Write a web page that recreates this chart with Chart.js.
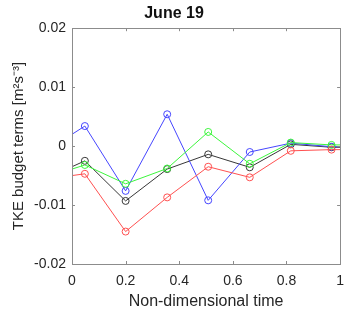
<!DOCTYPE html>
<html>
<head>
<meta charset="utf-8">
<script src="https://cdn.jsdelivr.net/npm/chart.js@4/dist/chart.umd.min.js"></script>
<style>
	html, body { margin: 0; padding: 0; background: #fff; }
	canvas { display: block; }
</style>
</head>
<body>
<canvas id="tke-chart" width="353" height="318"></canvas>
<script>
	// Data (first / last entries are where the lines meet the axes)
	var times = [0, 0.048, 0.2, 0.355, 0.508, 0.663, 0.816, 0.968, 1];
	var blueValues = [0.0020, 0.0034, -0.0076, 0.0054, -0.0092, -0.0010, 0.0005, -0.0001, -0.0001];
	var greenValues = [-0.0039, -0.0032, -0.0064, -0.0038, 0.0024, -0.0030, 0.0006, 0.0002, 0.0002];
	var redValues = [-0.0050, -0.0047, -0.0145, -0.0087, -0.0035, -0.0053, -0.0008, -0.0006, -0.0006];
	var blackValues = [-0.0035, -0.0025, -0.0093, -0.0039, -0.0014, -0.0036, 0.0003, -0.0002, -0.0002];

	var xTicks = [0, 0.2, 0.4, 0.6, 0.8, 1];
	var yTicks = [-0.02, -0.01, 0, 0.01, 0.02];

	var FONT = "'Liberation Sans', Arial, sans-serif";
	var TEXT = '#262626';
	var AXIS = '#8c8c8c';

	function toPoints(values) {
		return values.map(function (v, i) {
			return { x: times[i], y: v };
		});
	}

	function series(values, color) {
		return {
			data: toPoints(values),
			borderColor: color,
			backgroundColor: 'rgba(0,0,0,0)',
			borderWidth: 1,
			pointStyle: 'circle',
			pointBorderColor: color,
			pointBorderWidth: 1,
			pointRadius: function (c) {
				return c.dataIndex === 0 || c.dataIndex === times.length - 1 ? 0 : 3.5;
			},
			pointHoverRadius: 0,
			tension: 0,
			fill: false,
		};
	}

	// Matlab-like box with inward ticks on all four sides
	var boxPlugin = {
		id: 'matlabBox',
		afterDatasetsDraw: function (chart) {
			var ctx = chart.ctx;
			var a = chart.chartArea;
			var xs = chart.scales.x;
			var ys = chart.scales.y;
			var len = 3;
			ctx.save();
			ctx.strokeStyle = AXIS;
			ctx.lineWidth = 1;
			ctx.beginPath();
			xTicks.forEach(function (t) {
				var px = Math.round(xs.getPixelForValue(t)) + 0.5;
				ctx.moveTo(px, a.bottom);
				ctx.lineTo(px, a.bottom - len);
				ctx.moveTo(px, a.top);
				ctx.lineTo(px, a.top + len);
			});
			yTicks.forEach(function (t) {
				var py = Math.round(ys.getPixelForValue(t)) + 0.5;
				ctx.moveTo(a.left, py);
				ctx.lineTo(a.left + len, py);
				ctx.moveTo(a.right, py);
				ctx.lineTo(a.right - len, py);
			});
			ctx.stroke();
			ctx.strokeRect(Math.round(a.left) + 0.5, Math.round(a.top) + 0.5,
				Math.round(a.right - a.left), Math.round(a.bottom - a.top));
			ctx.restore();
		},
	};

	var ctx1 = document.getElementById('tke-chart').getContext('2d');
	var myChart1 = new Chart(ctx1, {
		type: 'line',
		data: {
			datasets: [
				series(redValues, 'rgb(255, 80, 80)'),
				series(greenValues, 'rgb(60, 245, 60)'),
				series(blueValues, 'rgb(70, 70, 255)'),
				series(blackValues, 'rgb(55, 55, 55)'),
			],
		},
		options: {
			responsive: false,
			animation: false,
			devicePixelRatio: 1,
			layout: { padding: { left: 0, right: 5, top: 0, bottom: 0 } },
			plugins: {
				legend: { display: false },
				tooltip: { enabled: false },
				title: {
					display: true,
					text: 'June 19',
					color: '#111',
					font: { family: FONT, size: 16, weight: 'bold' },
					padding: { top: 4, bottom: 5 },
				},
			},
			scales: {
				x: {
					type: 'linear',
					min: 0,
					max: 1,
					grid: { display: false, drawTicks: false },
					border: { display: false },
					afterBuildTicks: function (scale) {
						scale.ticks = xTicks.map(function (v) { return { value: v }; });
					},
					afterFit: function (scale) {
						scale.height = 54;
					},
					ticks: {
						color: TEXT,
						padding: 9,
						maxRotation: 0,
						font: { family: FONT, size: 14 },
						callback: function (v) { return String(v); },
					},
					title: {
						display: true,
						text: 'Non-dimensional time',
						color: TEXT,
						font: { family: FONT, size: 16 },
						padding: { top: 0, bottom: 7 },
					},
				},
				y: {
					type: 'linear',
					min: -0.02,
					max: 0.02,
					grid: { display: false, drawTicks: false },
					border: { display: false },
					afterBuildTicks: function (scale) {
						scale.ticks = yTicks.map(function (v) { return { value: v }; });
					},
					afterFit: function (scale) {
						scale.width = 72;
					},
					ticks: {
						color: TEXT,
						padding: 6,
						font: { family: FONT, size: 14 },
						callback: function (v) { return String(v); },
					},
					title: {
						display: true,
						text: 'TKE budget terms [m²s⁻³]',
						color: TEXT,
						font: { family: FONT, size: 15 },
						padding: { top: 10, bottom: 0 },
					},
				},
			},
		},
		plugins: [boxPlugin],
	});
</script>
</body>
</html>
